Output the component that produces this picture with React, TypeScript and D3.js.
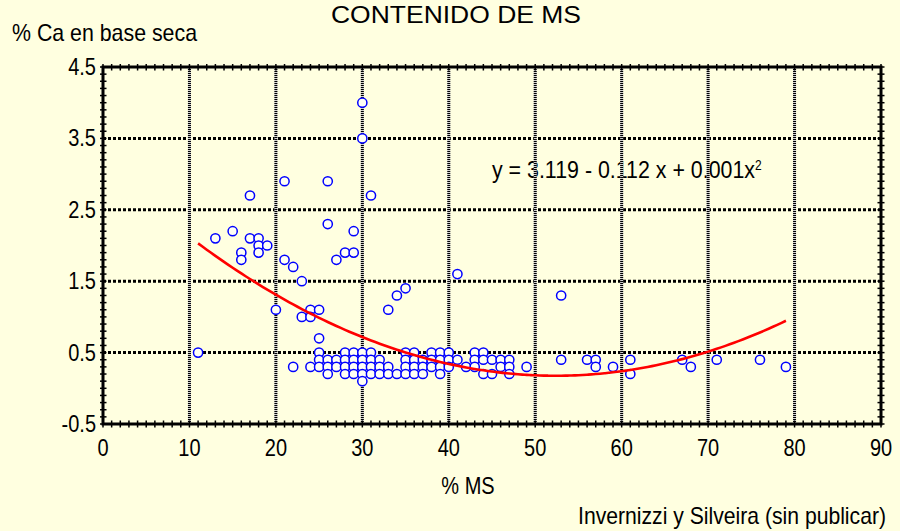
import React from "react";
import * as d3 from "d3";

// % MS (x) and % Ca en base seca (y)
const msPct = [
  30, 30, 21, 26, 17, 31, 26, 15, 29, 13, 17, 18, 18, 19, 16, 18, 28, 29, 16, 21, 27, 22, 41, 23, 35, 34, 53, 20, 24, 25, 33, 23, 24, 25, 11,
  22, 24, 25, 25, 25, 26, 26, 26, 27, 27, 28, 28, 28, 28, 29, 29, 29, 29, 30, 30, 30, 30, 30,
  31, 31, 31, 31, 32, 32, 32, 33, 33, 34, 35, 35, 35, 35, 36, 36, 36, 36, 37, 37, 37,
  38, 38, 38, 39, 39, 39, 39, 40, 40, 40, 41, 42, 43, 43, 43, 44, 44, 44, 45, 45, 46, 46,
  47, 47, 47, 49, 53, 56, 57, 57, 59, 61, 61, 67, 68, 71, 76, 79,
];
const caPct = [
  4.0, 3.5, 2.9, 2.9, 2.7, 2.7, 2.3, 2.2, 2.2, 2.1, 2.1, 2.1, 2.0, 2.0, 1.9, 1.9, 1.9, 1.9, 1.8, 1.8, 1.8, 1.7, 1.6, 1.5, 1.4, 1.3, 1.3, 1.1, 1.1, 1.1, 1.1, 1.0, 1.0, 0.7, 0.5,
  0.3, 0.3, 0.5, 0.4, 0.3, 0.4, 0.3, 0.2, 0.4, 0.3, 0.5, 0.4, 0.3, 0.2, 0.5, 0.4, 0.3, 0.2, 0.5, 0.4, 0.3, 0.2, 0.1,
  0.5, 0.4, 0.3, 0.2, 0.4, 0.3, 0.2, 0.3, 0.2, 0.2, 0.5, 0.4, 0.3, 0.2, 0.5, 0.4, 0.3, 0.2, 0.4, 0.3, 0.2,
  0.5, 0.4, 0.3, 0.5, 0.4, 0.3, 0.2, 0.5, 0.4, 0.3, 0.4, 0.3, 0.5, 0.4, 0.3, 0.5, 0.4, 0.2, 0.4, 0.2, 0.4, 0.3,
  0.4, 0.3, 0.2, 0.3, 0.4, 0.4, 0.4, 0.3, 0.3, 0.4, 0.2, 0.4, 0.3, 0.4, 0.4, 0.3,
];

const xTicks = [0, 10, 20, 30, 40, 50, 60, 70, 80, 90];
const yTicks = [-0.5, 0.5, 1.5, 2.5, 3.5, 4.5];

// quadratic fit (as drawn), y = a + b x + c x^2, over the data range
const fitCoef = [3.147, -0.1135, 0.001084];
const fitRange = [11, 79];

const bg = "#FFFFE0";
const font = "'Liberation Sans', Arial, sans-serif";
const stretchY = 1.2; // the original lettering is taller than it is wide

function Label({ x, y, size, anchor = "start", len, sy = stretchY, children }: any) {
  return (
    <text
      transform={`translate(${x},${y}) scale(1,${sy})`}
      fontSize={size}
      textAnchor={anchor}
      textLength={len}
      lengthAdjust={len ? "spacingAndGlyphs" : undefined}
    >
      {children}
    </text>
  );
}

export default function App() {
  const width = 900;
  const height = 531;
  const margin = { top: 67, right: 19, bottom: 107, left: 103 };
  const innerW = width - margin.left - margin.right;
  const innerH = height - margin.top - margin.bottom;

  const x = d3.scaleLinear().domain([0, 90]).range([margin.left, margin.left + innerW]);
  const y = d3.scaleLinear().domain([-0.5, 4.5]).range([margin.top + innerH, margin.top]);

  const fitPts = d3.range(fitRange[0], fitRange[1] + 0.001, 0.5).map((v) => [
    v,
    fitCoef[0] + fitCoef[1] * v + fitCoef[2] * v * v,
  ]);
  const fitLine = d3
    .line<number[]>()
    .x((d) => x(d[0]))
    .y((d) => y(d[1]))
    .curve(d3.curveMonotoneX);

  const x0 = x(0), x1 = x(90), y0 = y(-0.5), y1 = y(4.5);
  const minorX = d3.range(0, 90.01, 1);
  const minorY = d3.range(-0.5, 4.501, 0.1);

  return (
    <svg
      width={width}
      height={height}
      style={{ position: "absolute", left: 0, top: 0 }}
      fontFamily={font}
    >
      <rect x={0} y={0} width={width} height={height} fill={bg} />

      {/* titles */}
      <Label x={456} y={23} size={24} anchor="middle" len={250} sy={1}>
        CONTENIDO DE MS
      </Label>
      <Label x={12} y={41} size={20} len={185}>
        % Ca en base seca
      </Label>

      {/* regression equation (grid is drawn over it) */}
      <text transform={`translate(492,178) scale(1,${stretchY})`} fontSize={20}>
        <tspan textLength={263} lengthAdjust="spacingAndGlyphs">y = 3.119 - 0.112 x + 0.001x</tspan>
        <tspan fontSize={12} dy={-7}>2</tspan>
      </text>

      {/* horizontal grid */}
      {yTicks.slice(1, -1).map((t) => (
        <line key={"hg" + t} x1={x0} x2={x1} y1={y(t)} y2={y(t)} stroke="#000" strokeWidth={3} strokeDasharray="3,2" />
      ))}
      {/* vertical grid */}
      {xTicks.slice(1, -1).map((t) => (
        <g key={"vg" + t}>
          <line x1={x(t)} x2={x(t)} y1={y1} y2={y0} stroke="#d0d0d0" strokeWidth={3} />
          <line x1={x(t)} x2={x(t)} y1={y1} y2={y0} stroke="#000" strokeWidth={3} strokeDasharray="1,1" />
        </g>
      ))}

      {/* points */}
      {msPct.map((m, i) => (
        <circle
          key={"p" + i}
          cx={x(m)}
          cy={y(caPct[i])}
          r={4.6}
          fill="#FFFFF4"
          stroke="#0000FF"
          strokeWidth={1.5}
        />
      ))}

      {/* fit curve */}
      <path d={fitLine(fitPts) || ""} fill="none" stroke="#FF0000" strokeWidth={2.6} />

      {/* frame with minor ticks */}
      <rect x={x0} y={y1} width={x1 - x0} height={y0 - y1} fill="none" stroke="#000" strokeWidth={3} />
      {minorX.map((t) => (
        <g key={"mx" + t}>
          <line x1={x(t)} x2={x(t)} y1={y0 - 3.5} y2={y0 + 3.5} stroke="#000" strokeWidth={1.5} />
          <line x1={x(t)} x2={x(t)} y1={y1 - 3} y2={y1 + 3.5} stroke="#000" strokeWidth={1.5} />
        </g>
      ))}
      {minorY.map((t) => (
        <g key={"my" + t.toFixed(1)}>
          <line x1={x0 - 3} x2={x0 + 3.5} y1={y(t)} y2={y(t)} stroke="#000" strokeWidth={1.5} />
          <line x1={x1 - 3.5} x2={x1 + 3.5} y1={y(t)} y2={y(t)} stroke="#000" strokeWidth={1.5} />
        </g>
      ))}

      {/* tick labels */}
      {yTicks.map((t) => (
        <Label key={"yl" + t} x={96} y={y(t) + 8} size={20} anchor="end">
          {t.toFixed(1)}
        </Label>
      ))}
      {xTicks.map((t) => (
        <Label key={"xl" + t} x={x(t)} y={456} size={20} anchor="middle">
          {t}
        </Label>
      ))}

      <Label x={468} y={494} size={20} anchor="middle">
        % MS
      </Label>
      <Label x={886} y={524} size={20} anchor="end" len={308}>
        Invernizzi y Silveira (sin publicar)
      </Label>
    </svg>
  );
}
